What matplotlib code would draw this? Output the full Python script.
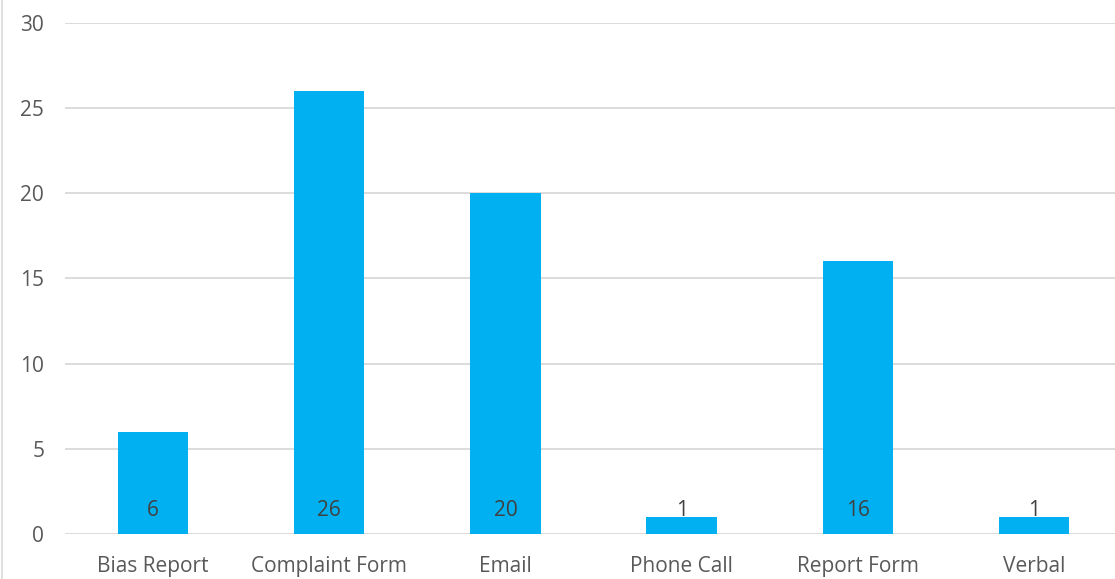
import matplotlib.pyplot as plt
from matplotlib.lines import Line2D

categories = ['Bias Report', 'Complaint Form', 'Email', 'Phone Call', 'Report Form', 'Verbal']
counts = [6, 26, 20, 1, 16, 1]
y_ticks = [0, 5, 10, 15, 20, 25, 30]

plt.rcParams['font.family'] = ['Open Sans', 'DejaVu Sans']

fig = plt.figure(figsize=(11.15, 5.79), dpi=100)
ax = fig.add_axes([65 / 1115, 45 / 579, 1050 / 1115, 511.3 / 579])

x = range(len(categories))
ax.bar(x, counts, width=0.4, color='#00B0F0', zorder=3)

# value labels sit near the base of each bar
for xi, v in zip(x, counts):
    ax.text(xi, 1.4, str(v), ha='center', va='center', fontsize=15,
            color='#404040', zorder=4)

ax.set_xlim(-0.5, 5.46)
ax.set_ylim(0, 30)
ax.set_yticks(y_ticks)
ax.set_xticks(list(x))
ax.set_xticklabels(categories)
ax.tick_params(axis='both', length=0, labelsize=15, labelcolor='#595959')
ax.tick_params(axis='y', pad=15)
ax.tick_params(axis='x', pad=16)
ax.grid(axis='y', color='#D9D9D9', linewidth=1.3, zorder=0)
for s in ax.spines.values():
    s.set_visible(False)

# chart frame edge on the left
fig.add_artist(Line2D([2 / 1115, 2 / 1115], [0, 1], transform=fig.transFigure,
                      color='#D9D9D9', linewidth=1.2))

fig.savefig('out.png', dpi=100)
